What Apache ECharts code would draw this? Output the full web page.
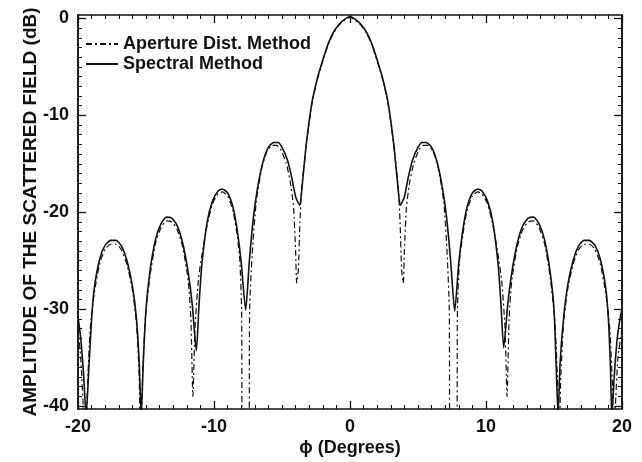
<!DOCTYPE html>
<html>
<head>
<meta charset="utf-8">
<script src="https://cdn.jsdelivr.net/npm/echarts@6/dist/echarts.min.js"></script>
<style>
  html, body { margin: 0; padding: 0; background: #fff; }
  #chart { width: 642px; height: 462px; }
</style>
</head>
<body>
<div id="chart"></div>
<script>
  const yMajorTicks = [-40, -30, -20, -10, 0];
  const yMinorTicks = [-40, -39, -38, -37, -36, -35, -34, -33, -32, -31, -30, -29, -28, -27, -26, -25, -24, -23, -22, -21, -20,
    -19, -18, -17, -16, -15, -14, -13, -12, -11, -10, -9, -8, -7, -6, -5, -4, -3, -2, -1, 0];

  // Spectral Method (solid), [phi, dB]
  const spectral = [
    [-20, -30.8], [-19.8, -33], [-19.6, -36.5], [-19.4, -41],
    [-19.2, -36], [-19.0, -31], [-18.8, -27.8], [-18.4, -24.8], [-18.0, -23.4], [-17.6, -22.9], [-17.2, -22.9],
    [-16.8, -23.5], [-16.4, -25], [-16.0, -27.6], [-15.7, -31], [-15.5, -35.5], [-15.35, -41],
    [-15.2, -35.5], [-15.0, -30], [-14.7, -26], [-14.3, -22.8], [-13.9, -21.2], [-13.5, -20.5], [-13.1, -20.6],
    [-12.7, -21.4], [-12.3, -23.2], [-11.9, -26.2], [-11.6, -29.5], [-11.3, -34.3],
    [-11.1, -29.5], [-10.9, -25.5], [-10.5, -21], [-10.1, -18.8], [-9.7, -17.8], [-9.4, -17.6], [-9.0, -18],
    [-8.6, -19.5], [-8.3, -21.8], [-8.0, -25.2], [-7.67, -30.1],
    [-7.4, -25], [-7.1, -20.5], [-6.8, -17.5], [-6.4, -14.8], [-6.0, -13.3], [-5.6, -12.8], [-5.3, -12.8],
    [-5.0, -13.3], [-4.6, -14.6], [-4.3, -16.3], [-4.0, -18.4], [-3.7, -19.3],
    [-3.5, -17], [-3.2, -12.8], [-2.8, -8.7], [-2.4, -6.2], [-2.0, -4.3], [-1.6, -2.6], [-1.2, -1.4], [-0.8, -0.6],
    [-0.4, -0.1], [0, 0.2], [0.4, -0.1], [0.8, -0.6], [1.2, -1.4], [1.6, -2.6], [2.0, -4.3], [2.4, -6.2],
    [2.8, -8.7], [3.2, -12.8], [3.5, -17], [3.7, -19.3],
    [4.0, -18.4], [4.3, -16.3], [4.6, -14.6], [5.0, -13.3], [5.3, -12.8], [5.6, -12.8], [6.0, -13.3], [6.4, -14.8],
    [6.8, -17.5], [7.1, -20.5], [7.4, -25], [7.7, -30.2],
    [8.0, -25.2], [8.3, -21.8], [8.6, -19.5], [9.0, -18], [9.4, -17.6], [9.7, -17.8], [10.1, -18.8], [10.5, -21],
    [10.9, -25.5], [11.1, -29.5], [11.3, -34],
    [11.6, -29.5], [11.9, -26.2], [12.3, -23.2], [12.7, -21.4], [13.1, -20.6], [13.5, -20.5], [13.9, -21.2],
    [14.3, -22.8], [14.7, -26], [15.0, -30], [15.15, -35.5], [15.3, -41],
    [15.45, -35.5], [15.7, -31], [16.0, -27.6], [16.4, -25], [16.8, -23.5], [17.2, -22.9], [17.6, -22.9],
    [18.0, -23.4], [18.4, -24.8], [18.8, -27.8], [19.0, -31], [19.15, -36], [19.25, -41],
    [19.45, -36.5], [19.65, -33], [19.85, -31], [20, -30]
  ];

  // Aperture Dist. Method (dash-dot), [phi, dB]
  const aperture = [
    [-20, -32], [-19.8, -35], [-19.6, -40.5], [-19.5, -45],
    [-19.3, -38], [-19.1, -32], [-18.8, -28.3], [-18.4, -25.3], [-18.0, -23.8], [-17.6, -23.3], [-17.2, -23.3],
    [-16.8, -23.9], [-16.4, -25.4], [-16.0, -28], [-15.7, -31.5], [-15.5, -37], [-15.4, -45],
    [-15.25, -37], [-15.05, -31], [-14.7, -26.5], [-14.3, -23.2], [-13.9, -21.6], [-13.5, -20.9], [-13.1, -21],
    [-12.7, -21.8], [-12.3, -23.6], [-11.9, -27], [-11.7, -31], [-11.55, -39],
    [-11.4, -32], [-11.15, -27], [-10.9, -24.5], [-10.5, -21.3], [-10.1, -19.1], [-9.7, -18.1], [-9.4, -17.9],
    [-9.0, -18.3], [-8.6, -19.9], [-8.3, -22.3], [-8.1, -25], [-7.97, -30], [-7.9, -45],
    [-7.45, -45], [-7.38, -30], [-7.2, -24.5],
    [-6.9, -19], [-6.5, -15.5], [-6.1, -13.7], [-5.7, -13.1], [-5.4, -13.1], [-5.1, -13.5], [-4.7, -14.9],
    [-4.4, -16.8], [-4.15, -19.5], [-4.0, -24], [-3.92, -27.3],
    [-3.8, -26], [-3.68, -21], [-3.55, -17.5], [-3.2, -12.9], [-2.8, -8.8], [-2.4, -6.3], [-2.0, -4.4], [-1.6, -2.7],
    [-1.2, -1.5], [-0.8, -0.7], [-0.4, -0.2], [0, 0.1],
    [0.4, -0.2], [0.8, -0.7], [1.2, -1.5], [1.6, -2.7], [2.0, -4.4], [2.4, -6.3], [2.8, -8.8], [3.2, -12.9],
    [3.55, -17.5], [3.68, -21], [3.8, -26], [3.92, -27.3],
    [4.0, -24], [4.15, -19.5], [4.4, -16.8], [4.7, -14.9], [5.1, -13.5], [5.4, -13.1], [5.7, -13.1], [6.1, -13.7],
    [6.5, -15.5], [6.9, -19], [7.15, -24.5], [7.3, -30], [7.35, -45],
    [7.84, -45], [7.9, -30], [8.05, -25], [8.3, -22.3], [8.6, -19.9], [9.0, -18.3], [9.4, -17.9], [9.7, -18.1],
    [10.1, -19.1], [10.5, -21.3], [10.9, -24.5], [11.15, -27], [11.4, -32], [11.55, -39],
    [11.7, -31], [11.9, -27], [12.3, -23.6], [12.7, -21.8], [13.1, -21], [13.5, -20.9], [13.9, -21.6], [14.3, -23.2],
    [14.7, -26.5], [15.05, -31], [15.25, -37], [15.35, -45],
    [15.5, -37], [15.7, -31.5], [16.0, -28], [16.4, -25.4], [16.8, -23.9], [17.2, -23.3], [17.6, -23.3],
    [18.0, -23.8], [18.4, -25.3], [18.8, -28.3], [19.1, -32], [19.3, -38], [19.4, -45],
    [19.5, -40.5], [19.7, -35], [19.9, -33], [20, -32]
  ];

  const font = "'Liberation Sans', Arial, Helvetica, sans-serif";
  const ink = "#111";
  const yMin = -40.3;
  const yMax = 0.35;

  const chart = echarts.init(document.getElementById("chart"), null, { renderer: "canvas" });

  const axisLine = { show: true, onZero: false, lineStyle: { color: ink, width: 1.5 } };
  const majorTick = { show: true, inside: true, length: 8, lineStyle: { color: ink, width: 1.3 } };
  const minorTick = { show: true, inside: true, length: 4, lineStyle: { color: ink, width: 1 } };

  const yBase = {
    type: "value",
    min: yMin,
    max: yMax,
    splitLine: { show: false },
    axisLine: axisLine
  };

  chart.setOption({
    backgroundColor: "#fff",
    animation: false,
    grid: { left: 78, right: 20, top: 15, bottom: 51 },
    legend: {
      orient: "vertical",
      left: 80,
      top: 30,
      itemWidth: 32,
      itemHeight: 14,
      itemGap: 2,
      itemStyle: { color: "rgba(0,0,0,0)", borderWidth: 0 },
      textStyle: { fontFamily: font, fontSize: 18, fontWeight: "bold", color: ink },
      data: ["Aperture Dist. Method", "Spectral Method"]
    },
    xAxis: [
      {
        type: "value",
        min: -20,
        max: 20,
        interval: 10,
        name: "ϕ (Degrees)",
        nameLocation: "middle",
        nameGap: 30,
        nameMoveOverlap: false,
        nameTextStyle: { fontFamily: font, fontSize: 18, fontWeight: "bold", color: ink },
        axisLine: axisLine,
        axisTick: majorTick,
        minorTick: Object.assign({ splitNumber: 10 }, minorTick),
        axisLabel: { fontFamily: font, fontSize: 18, fontWeight: "bold", color: ink, margin: 9 },
        splitLine: { show: false }
      },
      {
        type: "value",
        position: "top",
        min: -20,
        max: 20,
        interval: 10,
        axisLine: axisLine,
        axisTick: majorTick,
        minorTick: Object.assign({ splitNumber: 10 }, minorTick),
        axisLabel: { show: false },
        splitLine: { show: false }
      }
    ],
    yAxis: [
      Object.assign({}, yBase, {
        position: "left",
        name: "AMPLITUDE OF THE SCATTERED FIELD (dB)",
        nameLocation: "middle",
        nameGap: 38,
        nameMoveOverlap: false,
        nameTextStyle: { fontFamily: font, fontSize: 19, fontWeight: "bold", color: ink },
        axisTick: Object.assign({ customValues: yMajorTicks }, majorTick),
        axisLabel: { customValues: yMajorTicks, fontFamily: font, fontSize: 18, fontWeight: "bold", color: ink, margin: 9 }
      }),
      Object.assign({}, yBase, {
        position: "left",
        axisTick: Object.assign({ customValues: yMinorTicks }, minorTick),
        axisLabel: { show: false }
      }),
      Object.assign({}, yBase, {
        position: "right",
        axisTick: Object.assign({ customValues: yMajorTicks }, majorTick),
        axisLabel: { show: false }
      }),
      Object.assign({}, yBase, {
        position: "right",
        axisTick: Object.assign({ customValues: yMinorTicks }, minorTick),
        axisLabel: { show: false }
      })
    ],
    series: [
      {
        name: "Aperture Dist. Method",
        type: "line",
        data: aperture,
        symbol: "none",
        smooth: 0.2,
        clip: true,
        z: 2,
        lineStyle: { color: ink, width: 1.2, type: [6, 3, 2, 3] },
        itemStyle: { color: ink }
      },
      {
        name: "Spectral Method",
        type: "line",
        data: spectral,
        symbol: "none",
        smooth: 0.2,
        clip: true,
        z: 3,
        lineStyle: { color: ink, width: 1.6 },
        itemStyle: { color: ink }
      }
    ]
  });
</script>
</body>
</html>
